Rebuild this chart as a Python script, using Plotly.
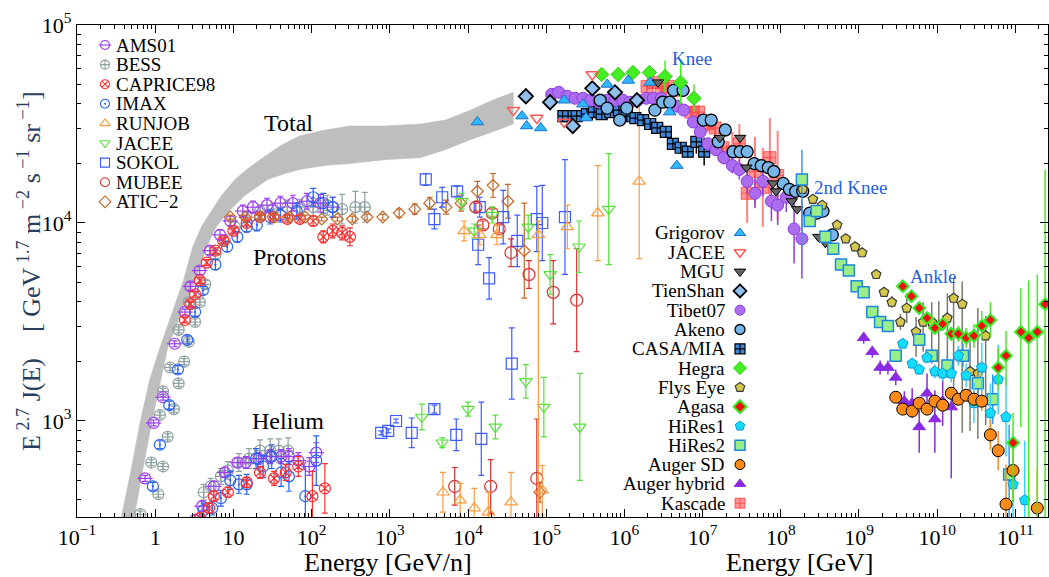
import numpy as np
import plotly.graph_objects as go

SERIF = "Liberation Serif"

# ---------------------------------------------------------------------------
# Data: log10(E / GeV) and log10(E^2.7 J(E)) ; errors in decades (dex)
# ---------------------------------------------------------------------------

# all-particle band from direct measurements
band_hi_logE = [-0.48, -0.43, -0.31, -0.19, -0.07, 0.06, 0.22, 0.36, 0.48, 0.59, 0.70, 0.85, 1.02, 1.17, 1.34,
                1.60, 1.85, 2.17, 2.49, 2.94, 3.39, 3.71, 4.03, 4.31, 4.58]
band_hi_logF = [2.40, 2.52, 2.75, 3.00, 3.21, 3.37, 3.55, 3.71, 3.88, 3.98, 4.05, 4.14, 4.22, 4.27, 4.32,
                4.39, 4.44, 4.47, 4.49, 4.49, 4.50, 4.52, 4.57, 4.62, 4.66]
band_lo_logE = [-0.32, -0.27, -0.16, -0.04, 0.06, 0.16, 0.34, 0.51, 0.66, 0.78, 0.92, 1.15, 1.44, 1.66, 1.85,
                2.17, 2.49, 2.94, 3.39, 3.71, 4.03, 4.31, 4.58]
band_lo_logF = [2.40, 2.52, 2.75, 3.00, 3.19, 3.37, 3.55, 3.71, 3.88, 3.98, 4.05, 4.14, 4.22, 4.25, 4.27,
                4.29, 4.30, 4.32, 4.33, 4.37, 4.42, 4.46, 4.50]

# ---- direct measurements: protons ----
ams01_p_logE = [-0.13, -0.02, 0.10, 0.25, 0.38, 0.45, 0.57, 0.70, 0.83, 0.96, 1.12, 1.25, 1.43, 1.60, 1.76, 1.94, 2.11, 2.27]
ams01_p_logF = [2.71, 2.99, 3.12, 3.39, 3.55, 3.68, 3.76, 3.86, 3.94, 4.01, 4.06, 4.08, 4.09, 4.10, 4.10, 4.11, 4.10, 4.08]
ams01_p_err = [0.015] * 5 + [0.02, 0.02, 0.02, 0.025, 0.025, 0.03, 0.03, 0.035, 0.035, 0.04, 0.04, 0.045, 0.05]

bess_p_logE = [-0.19, -0.05, 0.04, 0.06, 0.10, 0.10, 0.16, 0.19, 0.24, 0.30, 0.30, 0.37, 0.43, 0.43, 0.51,
               0.57, 0.64, 0.77, 0.89, 1.02, 1.17, 1.34, 1.51, 1.69, 1.85, 2.02, 2.20, 2.39, 2.56, 2.68]
bess_p_logF = [2.53, 2.79, 2.63, 3.03, 2.77, 3.15, 2.92, 3.27, 3.06, 3.46, 3.19, 3.30, 3.60, 3.40, 3.50,
               3.60, 3.69, 3.84, 3.91, 3.98, 4.03, 4.06, 4.07, 4.08, 4.08, 4.08, 4.09, 4.07, 4.08, 4.08]
bess_p_err = [0.015] * 16 + [0.02, 0.02, 0.02, 0.025, 0.025, 0.03, 0.03, 0.035, 0.04, 0.045, 0.05, 0.075, 0.08, 0.075]

caprice_p_logE = [0.38, 0.45, 0.51, 0.57, 0.66, 0.77, 0.87, 1.00, 1.17, 1.34, 1.51, 1.69, 1.85, 2.02, 2.15, 2.27, 2.39, 2.49]
caprice_p_logF = [3.51, 3.59, 3.64, 3.71, 3.80, 3.86, 3.91, 3.96, 4.00, 4.03, 4.03, 4.02, 4.02, 4.01, 3.93, 3.96, 3.95, 3.93]
caprice_p_err = [0.015] * 11 + [0.02, 0.02, 0.025, 0.03, 0.035, 0.035, 0.045]

imax_p_logE = [-0.03, 0.06, 0.18, 0.29, 0.41, 0.51, 0.61, 0.77, 0.92, 1.05, 1.17, 1.30, 1.47, 1.60, 1.81, 2.02, 2.15, 2.27]
imax_p_logF = [2.67, 2.88, 3.08, 3.26, 3.41, 3.55, 3.66, 3.79, 3.88, 3.93, 3.98, 3.99, 4.03, 4.04, 4.06, 4.13, 4.10, 4.08]
imax_p_err = [0.02] * 7 + [0.025, 0.025, 0.025, 0.025, 0.03, 0.035, 0.035, 0.04, 0.045, 0.05, 0.05]

atic_p_logE = [0.96, 1.15, 1.34, 1.53, 1.72, 1.92, 2.13, 2.33, 2.52, 2.71, 2.91, 3.12, 3.32, 3.51, 3.72, 3.91, 4.12, 4.32, 4.51, 4.72]
atic_p_logF = [4.03, 4.03, 4.03, 4.03, 4.03, 4.03, 4.02, 4.02, 4.02, 4.03, 4.03, 4.05, 4.07, 4.10, 4.08, 4.10, 4.16, 4.19, 4.11, 3.86]
atic_p_err = [0.01] * 8 + [0.015, 0.015, 0.015, 0.02, 0.025, 0.03, 0.035, 0.04, 0.05, 0.06, 0.085, 0.24]

sokol_p_logE = [3.46, 3.67, 3.57, 3.86, 4.15, 4.13, 4.27, 4.45, 4.63, 4.88, 4.95, 5.24]
sokol_p_logF = [4.22, 4.13, 4.02, 4.16, 4.08, 3.89, 3.72, 4.03, 3.91, 4.02, 4.00, 4.03]
sokol_p_err = [0.03, 0.05, 0.05, 0.025, 0.05, 0.10, 0.105, 0.135, 0.13, 0.165, 0.19, 0.29]

mubee_p_logE = [4.10, 4.19, 4.31, 4.40, 4.55, 4.78, 5.09, 5.39]
mubee_p_logF = [4.08, 3.99, 4.05, 3.97, 3.85, 3.74, 3.65, 3.61]
mubee_p_err = [0.02, 0.02, 0.02, 0.02, 0.07, 0.07, 0.16, 0.26]

jacee_p_logE = [3.92, 4.08, 4.31, 4.77, 5.05, 5.42, 5.80]
jacee_p_logF = [4.11, 3.96, 4.04, 3.98, 3.74, 3.88, 4.07]
jacee_p_err = [0.04, 0.035, 0.04, 0.06, 0.10, 0.13, 0.28]

runjob_p_logE = [3.95, 4.15, 4.37, 4.90, 5.27, 5.66, 6.19]
runjob_p_logF = [3.96, 3.94, 3.94, 3.94, 3.98, 4.05, 4.21]
runjob_p_err_up = [0.05, 0.05, 0.05, 0.07, 0.11, 0.24, 0.39]
runjob_p_err_dn = [0.05, 0.05, 0.05, 2.0, 0.11, 0.24, 0.39]

# ---- direct measurements: helium ----
ams01_he_logE = [0.51, 0.60, 0.75, 0.89, 1.05, 1.16, 1.32, 1.47, 1.61, 1.71, 1.83, 1.97, 2.06]
ams01_he_logF = [2.50, 2.57, 2.67, 2.74, 2.79, 2.79, 2.81, 2.82, 2.82, 2.82, 2.80, 2.77, 2.84]
ams01_he_err = [0.025] * 5 + [0.03, 0.03, 0.035, 0.035, 0.04, 0.04, 0.045, 0.05]

bess_he_logE = [0.62, 0.71, 0.84, 0.93, 1.07, 1.20, 1.34, 1.47, 1.58, 1.70]
bess_he_logF = [2.64, 2.67, 2.72, 2.75, 2.79, 2.81, 2.85, 2.85, 2.85, 2.85]
bess_he_err = [0.04, 0.04, 0.04, 0.045, 0.045, 0.05, 0.055, 0.06, 0.06, 0.065]

caprice_he_logE = [0.57, 0.69, 0.75, 0.93, 1.17, 1.34, 1.52, 1.67, 1.83, 2.01, 2.17]
caprice_he_logF = [2.51, 2.56, 2.62, 2.64, 2.69, 2.74, 2.71, 2.74, 2.77, 2.62, 2.66]
caprice_he_err = [0.025] * 5 + [0.03, 0.035, 0.04, 0.05, 0.125, 0.125]

imax_he_logE = [0.62, 0.73, 0.84, 0.96, 1.07, 1.17, 1.29, 1.38, 1.49, 1.61, 1.71, 1.92, 2.06]
imax_he_logF = [2.55, 2.56, 2.61, 2.70, 2.68, 2.68, 2.81, 2.77, 2.82, 2.74, 2.72, 2.62, 2.80]
imax_he_err = [0.035, 0.035, 0.04, 0.045, 0.045, 0.05, 0.05, 0.055, 0.06, 0.07, 0.075, 0.15, 0.125]

sokol_he_logE = [2.89, 2.98, 3.08, 3.28, 3.57, 3.85, 4.17, 4.56]
sokol_he_logF = [2.94, 2.95, 3.00, 2.94, 3.06, 2.93, 2.91, 3.29]
sokol_he_err = [0.01, 0.01, 0.01, 0.075, 0.02, 0.08, 0.185, 0.18]

jacee_he_logE = [3.41, 3.67, 4.00, 4.35, 4.74, 4.97, 5.43]
jacee_he_logF = [3.02, 2.89, 3.06, 2.97, 3.20, 3.07, 2.97]
jacee_he_err = [0.065, 0.025, 0.035, 0.06, 0.085, 0.15, 0.27]

runjob_he_logE = [3.68, 3.90, 4.08, 4.26, 4.55, 4.95]
runjob_he_logF = [2.64, 2.60, 2.56, 2.54, 2.59, 2.65]
runjob_he_err = [0.10, 0.085, 0.10, 0.10, 0.15, 0.125]

mubee_he_logE = [3.83, 4.29, 4.88]
mubee_he_logF = [2.67, 2.67, 2.71]
mubee_he_err_up = [0.095, 0.135, 0.30]
mubee_he_err_dn = [0.095, 0.135, 1.5]

atic_he_logE = [4.92]
atic_he_logF = [2.64]
atic_he_err = [0.05]

# ---- air-shower / all-particle measurements ----
grigorov_logE = [4.12, 4.69, 4.75, 4.93, 5.23, 5.47, 5.51, 5.78, 6.05, 6.33, 6.58, 6.67]
grigorov_logF = [4.51, 4.54, 4.49, 4.48, 4.62, 4.60, 4.53, 4.70, 4.72, 4.71, 4.56, 4.29]

jacee_all_logE = [4.58, 4.88, 5.23, 5.59]
jacee_all_logF = [4.57, 4.53, 4.51, 4.75]

mgu_logE = [6.43, 7.22, 7.48, 7.56, 7.90, 7.94, 8.14, 8.21, 8.48, 8.57]
mgu_logF = [4.71, 4.43, 4.43, 4.28, 4.20, 4.16, 4.11, 4.07, 3.93, 3.90]

tienshan_logE = [4.74, 5.05, 5.34, 5.59, 5.88, 6.16]
tienshan_logF = [4.64, 4.61, 4.49, 4.68, 4.66, 4.62]

tibet_logE = [5.07, 5.16, 5.27, 5.37, 5.47, 5.57, 5.68, 5.78, 5.88, 5.98, 6.07, 6.17, 6.28, 6.37, 6.47, 6.56, 6.67,
              6.76, 6.88, 6.97, 7.07, 7.17, 7.27, 7.38, 7.47, 7.57, 7.67, 7.77, 7.88, 7.96, 8.07, 8.17, 8.27]
tibet_logF = [4.65, 4.66, 4.64, 4.63, 4.63, 4.62, 4.61, 4.62, 4.62, 4.62, 4.61, 4.62, 4.63, 4.63, 4.63, 4.61, 4.59,
              4.57, 4.51, 4.46, 4.40, 4.37, 4.33, 4.29, 4.27, 4.21, 4.15, 4.21, 4.11, 4.09, 4.13, 3.97, 3.92]
tibet_err = [0.02] * 18 + [0.025, 0.025, 0.03, 0.03, 0.035, 0.04, 0.05, 0.06, 0.075, 0.075, 0.1, 0.1, 0.075, 0.175, 0.2]

akeno_logE = [5.69, 5.78, 5.94, 6.03, 6.39, 6.49, 6.58, 6.63, 6.75, 7.01, 7.11, 7.20, 7.29, 7.39, 7.48, 7.57, 7.66,
              7.75, 7.84, 7.91, 8.03, 8.11, 8.19, 8.28, 8.37, 8.46, 8.54, 8.66]
akeno_logF = [4.62, 4.58, 4.52, 4.58, 4.57, 4.61, 4.61, 4.67, 4.67, 4.52, 4.52, 4.41, 4.47, 4.36, 4.36, 4.36, 4.30,
              4.29, 4.28, 4.26, 4.20, 4.17, 4.16, 4.16, 4.05, 4.05, 4.06, 3.94]

casa_logE = [5.22, 5.28, 5.39, 5.52, 5.61, 5.71, 5.82, 5.93, 6.03, 6.14, 6.24, 6.33, 6.42, 6.53, 6.62, 6.72, 6.81, 6.92, 7.02]
casa_logF = [4.54, 4.54, 4.54, 4.55, 4.56, 4.55, 4.56, 4.57, 4.54, 4.53, 4.52, 4.50, 4.48, 4.46, 4.40, 4.38, 4.36, 4.41, 4.36]
casa_err = [0.01] * 13 + [0.015, 0.02, 0.025, 0.03, 0.06, 0.07]

hegra_logE = [5.71, 5.92, 6.11, 6.32, 6.52, 6.72, 6.89]
hegra_logF = [4.75, 4.75, 4.76, 4.76, 4.74, 4.71, 4.63]
hegra_err = [0.01, 0.01, 0.015, 0.02, 0.08, 0.11, 0.07]

flyseye_logE = [8.28, 8.41, 8.53, 8.72, 8.83, 8.95, 9.04, 9.22, 9.32, 9.42, 9.53, 9.61, 9.73, 9.82, 9.93, 10.02,
                10.13, 10.21, 10.32, 10.42, 10.52, 10.62]
flyseye_logF = [4.17, 4.12, 4.09, 3.99, 3.92, 3.88, 3.85, 3.74, 3.65, 3.60, 3.50, 3.57, 3.45, 3.50, 3.50, 3.48,
                3.52, 3.62, 3.59, 3.25, 3.24, 3.43]
flyseye_err_up = [0.015] * 9 + [0.03, 0.04, 0.075, 0.075, 0.10, 0.10, 0.125, 0.125, 0.105, 0.115, 0.2, 0.33, 0.1]
flyseye_err_dn = [0.015] * 9 + [0.03, 0.04, 0.075, 0.125, 0.15, 0.2, 0.25, 0.3, 0.55, 0.65, 0.3, 0.33, 0.45]

agasa_logE = [9.56, 9.67, 9.77, 9.87, 9.97, 10.07, 10.18, 10.27, 10.37, 10.47, 10.57, 10.68, 10.78, 10.88,
              10.97, 11.07, 11.17, 11.28, 11.38]
agasa_logF = [3.68, 3.63, 3.57, 3.52, 3.47, 3.49, 3.44, 3.44, 3.42, 3.43, 3.48, 3.51, 3.27, 3.33, 2.89, 3.45,
              3.42, 3.45, 3.59]
agasa_err_up = [0.015, 0.015, 0.015, 0.02, 0.025, 0.03, 0.035, 0.04, 0.05, 0.06, 0.075, 0.09, 0.10, 0.125,
                0.15, 0.22, 0.29, 0.29, 0.68]
agasa_err_dn = [0.015, 0.015, 0.015, 0.02, 0.025, 0.03, 0.035, 0.04, 0.05, 0.06, 0.075, 0.09, 0.115, 0.15,
                0.3, 0.48, 2.0, 2.0, 2.0]

hires1_logE = [9.56, 9.68, 9.77, 9.87, 9.97, 10.07, 10.18, 10.27, 10.37, 10.47, 10.57, 10.68, 10.78, 10.88, 10.97, 11.12]
hires1_logF = [3.39, 3.29, 3.26, 3.32, 3.25, 3.24, 3.24, 3.33, 3.23, 3.09, 3.27, 3.04, 3.21, 3.02, 2.68, 2.60]
hires1_err = [0.02, 0.025, 0.025, 0.03, 0.035, 0.04, 0.045, 0.05, 0.06, 0.1, 0.125, 0.15, 0.175, 0.2, 0.225, 0.3]

hires2_logE = [8.27, 8.37, 8.46, 8.57, 8.67, 8.77, 8.87, 8.97, 9.06, 9.17, 9.27, 9.37, 9.47, 9.77, 9.93,
               10.13, 10.33, 10.52, 10.71, 10.92]
hires2_logF = [4.22, 4.01, 4.06, 3.93, 3.87, 3.79, 3.76, 3.68, 3.65, 3.55, 3.50, 3.48, 3.33, 3.41, 3.33,
               3.28, 3.33, 3.19, 3.11, 2.73]
hires2_err_up = [0.15] + [0.015] * 9 + [0.02, 0.02, 0.025, 0.03, 0.04, 0.05, 0.06, 0.1, 0.125, 0.25]
hires2_err_dn = [0.34] + [0.015] * 9 + [0.02, 0.02, 0.025, 0.03, 0.04, 0.05, 0.06, 0.1, 0.125, 0.25]

augersd_logE = [9.47, 9.56, 9.68, 9.77, 9.87, 9.97, 10.07, 10.18, 10.27, 10.37, 10.47, 10.57, 10.68, 10.78,
                10.88, 10.97, 11.28]
augersd_logF = [3.12, 3.06, 3.05, 3.09, 3.06, 3.10, 3.08, 3.14, 3.11, 3.13, 3.11, 3.10, 2.93, 2.85, 2.58, 2.75, 2.56]
augersd_err = [0.01, 0.01, 0.01, 0.01, 0.015, 0.015, 0.015, 0.02, 0.025, 0.03, 0.04, 0.05, 0.075, 0.1, 0.2, 0.15, 0.2]

augerhy_logE = [9.06, 9.17, 9.27, 9.37, 9.47, 9.58, 9.68, 9.77, 9.87, 9.97, 10.07, 10.18]
augerhy_logF = [3.42, 3.35, 3.27, 3.27, 3.22, 3.10, 3.09, 2.97, 3.14, 3.01, 3.10, 3.07]
augerhy_err_up = [0.03, 0.03, 0.035, 0.035, 0.04, 0.05, 0.075, 0.085, 0.1, 0.145, 0.125, 0.07]
augerhy_err_dn = [0.03, 0.03, 0.035, 0.035, 0.04, 0.05, 0.075, 0.13, 0.1, 0.17, 0.125, 0.36]

kascade_logE = [6.29, 6.37, 6.47, 6.56, 6.67, 6.85, 6.95, 7.06, 7.16, 7.26, 7.38, 7.47, 7.57, 7.67, 7.77, 7.86, 7.96]
kascade_logF = [4.69, 4.71, 4.68, 4.69, 4.67, 4.56, 4.56, 4.50, 4.48, 4.38, 4.36, 4.40, 4.15, 4.26, 4.18, 4.33, 4.24]
kascade_err = [0.02, 0.02, 0.02, 0.025, 0.025, 0.03, 0.035, 0.04, 0.05, 0.075, 0.1, 0.1, 0.15, 0.175, 0.2, 0.2, 0.225]

# axis ticks
x_tick_exp = list(range(-1, 12))
y_tick_exp = [3, 4, 5]

# ---------------------------------------------------------------------------
# Styles
# ---------------------------------------------------------------------------
C_AMS = "#9b3cf2"
C_BESS = "#8fa2a2"
C_CAPRICE = "#ff2e2e"
C_IMAX = "#2a62f0"
C_RUNJOB = "#ff9a3c"
C_JACEE = "#55e03a"
C_SOKOL = "#3d5cff"
C_MUBEE = "#d83232"
C_ATIC = "#c2682c"
C_LABEL = "#1f5fdf"

fig = go.Figure()


def flux_err(logF, up, dn=None):
    F = 10.0 ** np.asarray(logF, float)
    up = np.asarray(up, float)
    dn = up if dn is None else np.asarray(dn, float)
    return F * (10.0 ** up - 1.0), F * (1.0 - 10.0 ** (-dn))


def add_points(logE, logF, symbol, color, size, edge=None, edge_w=1.2,
               up=None, dn=None, err_color=None, cap=3, err_w=1.2, opacity=1.0):
    kw = {}
    if up is not None:
        a, am = flux_err(logF, up, dn)
        kw["error_y"] = dict(type="data", symmetric=False, array=a, arrayminus=am,
                             color=err_color or color, thickness=err_w, width=cap)
    fig.add_trace(go.Scatter(
        x=10.0 ** np.asarray(logE, float), y=10.0 ** np.asarray(logF, float),
        mode="markers", opacity=opacity,
        marker=dict(symbol=symbol, size=size, color=color,
                    line=dict(color=edge or color, width=edge_w)),
        showlegend=False, hoverinfo="skip", cliponaxis=True, **kw))


# all-particle band
band_x = [10.0 ** v for v in band_hi_logE] + [10.0 ** v for v in band_lo_logE[::-1]]
band_y = [10.0 ** v for v in band_hi_logF] + [10.0 ** v for v in band_lo_logF[::-1]]
fig.add_trace(go.Scatter(x=band_x, y=band_y, mode="lines", fill="toself",
                         fillcolor="#bebebe", line=dict(color="#bebebe", width=0.5),
                         showlegend=False, hoverinfo="skip"))

# direct measurements
for lE, lF, er in [(bess_p_logE, bess_p_logF, bess_p_err), (bess_he_logE, bess_he_logF, bess_he_err)]:
    add_points(lE, lF, "circle-cross-open", C_BESS, 11, up=er)
for lE, lF, er in [(ams01_p_logE, ams01_p_logF, ams01_p_err), (ams01_he_logE, ams01_he_logF, ams01_he_err)]:
    add_points(lE, lF, "circle-open", C_AMS, 11, up=er)
    add_points(lE, lF, "line-ew-open", C_AMS, 11)
for lE, lF, er in [(imax_p_logE, imax_p_logF, imax_p_err), (imax_he_logE, imax_he_logF, imax_he_err)]:
    add_points(lE, lF, "circle-open-dot", C_IMAX, 11, up=er)
for lE, lF, er in [(caprice_p_logE, caprice_p_logF, caprice_p_err), (caprice_he_logE, caprice_he_logF, caprice_he_err)]:
    add_points(lE, lF, "circle-x-open", C_CAPRICE, 11, up=er)
add_points(atic_p_logE, atic_p_logF, "diamond-open", C_ATIC, 9, up=atic_p_err)
add_points(atic_he_logE, atic_he_logF, "diamond-open", C_ATIC, 9, up=atic_he_err)
add_points(sokol_p_logE, sokol_p_logF, "square-open", C_SOKOL, 11, up=sokol_p_err)
add_points(sokol_he_logE, sokol_he_logF, "square-open", C_SOKOL, 11, up=sokol_he_err)
add_points(mubee_p_logE, mubee_p_logF, "circle-open", C_MUBEE, 12, up=mubee_p_err)
add_points(mubee_he_logE, mubee_he_logF, "circle-open", C_MUBEE, 12, up=mubee_he_err_up, dn=mubee_he_err_dn)
add_points(jacee_p_logE, jacee_p_logF, "triangle-down-open", C_JACEE, 11, up=jacee_p_err)
add_points(jacee_he_logE, jacee_he_logF, "triangle-down-open", C_JACEE, 11, up=jacee_he_err)
add_points(runjob_p_logE, runjob_p_logF, "triangle-up-open", C_RUNJOB, 11, up=runjob_p_err_up, dn=runjob_p_err_dn)
add_points(runjob_he_logE, runjob_he_logF, "triangle-up-open", C_RUNJOB, 11, up=runjob_he_err)

# air-shower and all-particle data
add_points(kascade_logE, kascade_logF, "square-cross", "rgba(255,80,80,0.6)", 12,
           edge="rgba(255,60,60,0.75)", edge_w=1, up=kascade_err, err_color="rgba(255,80,80,0.7)", cap=0, err_w=2)
add_points(casa_logE, casa_logF, "square-cross", "#3f87dd", 11, edge="black", edge_w=1.2,
           up=casa_err, err_color="black", cap=0, err_w=1.5)
add_points(tibet_logE, tibet_logF, "circle", "#ac6cf0", 12, edge="#8a3ee0", edge_w=1,
           up=tibet_err, err_color="#8a3ee0", cap=0, err_w=1.5)
add_points(akeno_logE, akeno_logF, "circle", "#78b6ea", 12, edge="black", edge_w=1.3)
add_points(tienshan_logE, tienshan_logF, "diamond", "#8fc0ee", 11, edge="black", edge_w=1.8)
add_points(hegra_logE, hegra_logF, "diamond", "#44ee22", 11, edge="#2fcc12", edge_w=1,
           up=hegra_err, err_color="#44ee22", cap=0, err_w=1.5)
add_points(grigorov_logE, grigorov_logF, "triangle-up", "#2fb8ff", 11, edge="#1a6fd0", edge_w=1)
add_points(jacee_all_logE, jacee_all_logF, "triangle-down-open", "#ff5a5a", 11, edge_w=1.5)
add_points(mgu_logE, mgu_logF, "triangle-down", "#666666", 10, edge="black", edge_w=1)
add_points(flyseye_logE, flyseye_logF, "pentagon", "#d6c84a", 10, edge="#3a3a3a", edge_w=1.2,
           up=flyseye_err_up, dn=flyseye_err_dn, err_color="#7a7a6a", cap=0, err_w=1.5)
add_points(hires2_logE, hires2_logF, "square", "#9aee88", 11, edge="#1a88dd", edge_w=1.5,
           up=hires2_err_up, dn=hires2_err_dn, err_color="#3a9ae8", cap=0, err_w=1.5)
add_points(augerhy_logE, augerhy_logF, "triangle-up", "#8a2be2", 11, edge="#8a2be2", edge_w=1,
           up=augerhy_err_up, dn=augerhy_err_dn, cap=0, err_w=1.5)
add_points(hires1_logE, hires1_logF, "pentagon", "#14dcff", 11, edge="#0a9ad8", edge_w=1,
           up=hires1_err, err_color="#30d8ff", cap=0, err_w=1.5)
add_points(augersd_logE, augersd_logF, "circle", "#ff8a18", 12, edge="black", edge_w=1,
           up=augersd_err, err_color="#ff8a18", cap=0, err_w=1.5)
add_points(agasa_logE, agasa_logF, "diamond", "#ee1111", 9, edge="#33ee22", edge_w=2,
           up=agasa_err_up, dn=agasa_err_dn, err_color="#44ee22", cap=0, err_w=1.5)

# ---------------------------------------------------------------------------
# Legends (keys on an overlay axis in plot-fraction units)
# ---------------------------------------------------------------------------
PL, PR, PT, PB = 77, 1048, 25, 517


def fx(px):
    return (px - PL) / (PR - PL)


def fy(py):
    return (PB - py) / (PB - PT)


left_legend = [
    ("AMS01", "circle-open", C_AMS, C_AMS),
    ("BESS", "circle-cross-open", C_BESS, C_BESS),
    ("CAPRICE98", "circle-x-open", C_CAPRICE, C_CAPRICE),
    ("IMAX", "circle-open-dot", C_IMAX, C_IMAX),
    ("RUNJOB", "triangle-up-open", C_RUNJOB, C_RUNJOB),
    ("JACEE", "triangle-down-open", C_JACEE, C_JACEE),
    ("SOKOL", "square-open", C_SOKOL, C_SOKOL),
    ("MUBEE", "circle-open", C_MUBEE, C_MUBEE),
    ("ATIC\u22122", "diamond-open", C_ATIC, C_ATIC),
]
right_legend = [
    ("Grigorov", "triangle-up", "#2fb8ff", "#1a6fd0", 1),
    ("JACEE", "triangle-down-open", "#ff5a5a", "#ff5a5a", 1.5),
    ("MGU", "triangle-down", "#666666", "black", 1),
    ("TienShan", "diamond", "#8fc0ee", "black", 1.8),
    ("Tibet07", "circle", "#ac6cf0", "#8a3ee0", 1),
    ("Akeno", "circle", "#78b6ea", "black", 1.3),
    ("CASA/MIA", "square-cross", "#3f87dd", "black", 1.2),
    ("Hegra", "diamond", "#44ee22", "#2fcc12", 1),
    ("Flys Eye", "pentagon", "#d6c84a", "#3a3a3a", 1.2),
    ("Agasa", "diamond", "#ee1111", "#33ee22", 2),
    ("HiRes1", "pentagon", "#14dcff", "#0a9ad8", 1),
    ("HiRes2", "square", "#9aee88", "#1a88dd", 1.5),
    ("Auger SD", "circle", "#ff8a18", "black", 1),
    ("Auger hybrid", "triangle-up", "#8a2be2", "#8a2be2", 1),
    ("Kascade", "square-cross", "rgba(255,80,80,0.6)", "rgba(255,60,60,0.75)", 1),
]

annotations = []
LEG_FONT = dict(family=SERIF, size=19, color="black")

L_ROW0, L_STEP, L_KEY_X, L_TEXT_X = 45, 19.6, 105, 114
for i, (label, sym, col, edge) in enumerate(left_legend):
    yy = fy(L_ROW0 + i * L_STEP)
    fig.add_trace(go.Scatter(x=[fx(L_KEY_X)], y=[yy], xaxis="x2", yaxis="y2", mode="markers",
                             marker=dict(symbol=sym, size=9, color=col, line=dict(color=edge, width=1.1)),
                             showlegend=False, hoverinfo="skip"))
    if label == "AMS01":
        fig.add_trace(go.Scatter(x=[fx(L_KEY_X)], y=[yy], xaxis="x2", yaxis="y2", mode="markers",
                                 marker=dict(symbol="line-ew-open", size=9, color=col, line=dict(color=col, width=1.1)),
                                 showlegend=False, hoverinfo="skip"))
    annotations.append(dict(xref="paper", yref="paper", x=fx(L_TEXT_X), y=yy, text=label,
                            showarrow=False, xanchor="left", yanchor="middle", font=LEG_FONT))

R_ROW0, R_STEP, R_KEY_X, R_TEXT_X = 233, 19.3, 740, 727
for i, (label, sym, col, edge, lw) in enumerate(right_legend):
    yy = fy(R_ROW0 + i * R_STEP)
    fig.add_trace(go.Scatter(x=[fx(R_KEY_X)], y=[yy], xaxis="x2", yaxis="y2", mode="markers",
                             marker=dict(symbol=sym, size=10, color=col, line=dict(color=edge, width=lw)),
                             showlegend=False, hoverinfo="skip"))
    annotations.append(dict(xref="paper", yref="paper", x=fx(R_TEXT_X), y=yy, text=label,
                            showarrow=False, xanchor="right", yanchor="middle", font=LEG_FONT))

# curve labels (data coordinates, log10 units on log axes)
BIG = dict(family=SERIF, size=24, color="black")
BLUE = dict(family=SERIF, size=19, color=C_LABEL)
for text, lx, ly, font in [("Total", 1.70, 4.505, BIG), ("Protons", 1.72, 3.83, BIG), ("Helium", 1.70, 3.0, BIG),
                           ("Knee", 6.86, 4.83, BLUE), ("2nd Knee", 8.89, 4.18, BLUE), ("Ankle", 9.95, 3.73, BLUE)]:
    annotations.append(dict(xref="x", yref="y", x=lx, y=ly, text=text, showarrow=False,
                            xanchor="center", yanchor="middle", font=font))

# axis titles
TITLE_FONT = dict(family=SERIF, size=26, color="black")
annotations.append(dict(xref="paper", yref="paper", x=fx(388), y=fy(562), text="Energy [GeV/n]",
                        showarrow=False, xanchor="center", yanchor="middle", font=TITLE_FONT))
annotations.append(dict(xref="paper", yref="paper", x=fx(800), y=fy(562), text="Energy [GeV]",
                        showarrow=False, xanchor="center", yanchor="middle", font=TITLE_FONT))
annotations.append(dict(xref="paper", yref="paper", x=fx(29), y=fy(271), textangle=-90,
                        text="E<sup> 2.7</sup> J(E)    [ GeV<sup> 1.7</sup> m<sup> \u22122</sup> s<sup> \u22121</sup> sr<sup> \u22121</sup>]",
                        showarrow=False, xanchor="center", yanchor="middle", font=dict(family=SERIF, size=26)))


def exp_label(k):
    if k == 0:
        return "1"
    if k == 1:
        return "10"
    return "10<sup>%s</sup>" % (str(k).replace("-", "\u2212"))


axis_common = dict(type="log", showline=True, linecolor="black", linewidth=1.2, mirror="ticks",
                   ticks="inside", ticklen=8, tickwidth=1.2, tickcolor="black", showgrid=False,
                   zeroline=False, tickfont=dict(family=SERIF, size=22, color="black"),
                   minor=dict(ticks="inside", ticklen=4, tickwidth=1, tickcolor="black", dtick="D1", showgrid=False))

fig.update_layout(
    width=1049, height=577,
    margin=dict(l=PL, r=1049 - PR, t=PT, b=577 - PB),
    paper_bgcolor="white", plot_bgcolor="white",
    showlegend=False,
    xaxis=dict(range=[-1.0, 11.417], tickmode="array",
               tickvals=[10.0 ** k for k in x_tick_exp], ticktext=[exp_label(k) for k in x_tick_exp],
               **axis_common),
    yaxis=dict(range=[2.515, 5.0], tickmode="array",
               tickvals=[10.0 ** k for k in y_tick_exp], ticktext=[exp_label(k) for k in y_tick_exp],
               **axis_common),
    xaxis2=dict(overlaying="x", range=[0, 1], visible=False, fixedrange=True),
    yaxis2=dict(overlaying="y", range=[0, 1], visible=False, fixedrange=True),
    annotations=annotations,
    font=dict(family=SERIF),
)

fig.write_html("out.html")
